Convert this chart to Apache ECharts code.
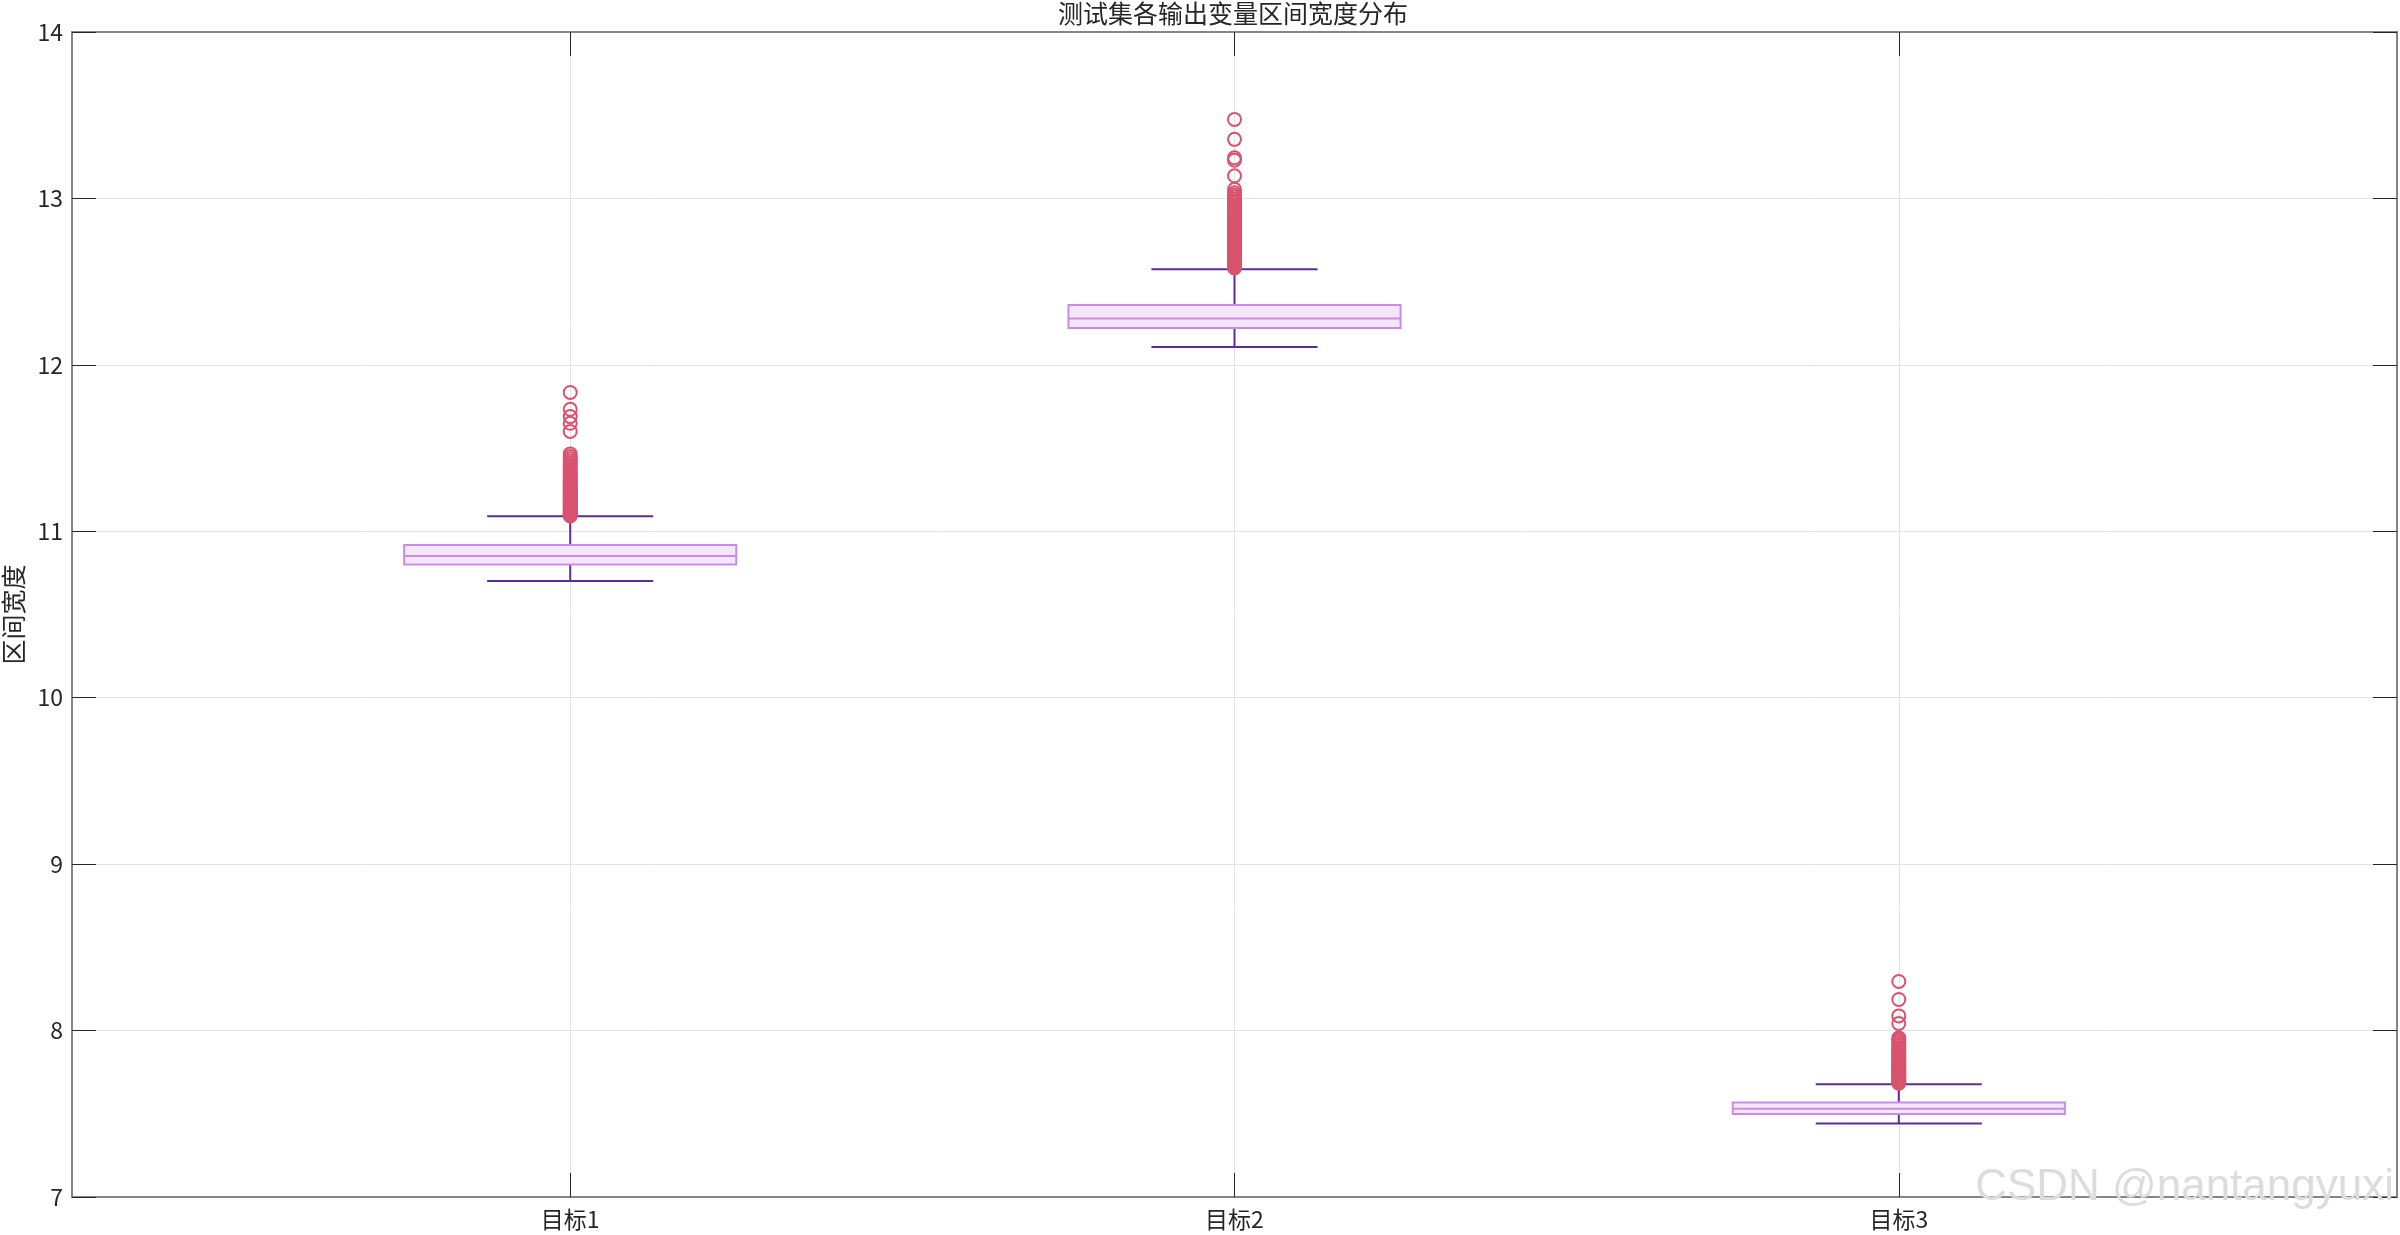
<!DOCTYPE html>
<html>
<head>
<meta charset="utf-8">
<script src="https://cdn.jsdelivr.net/npm/echarts@6/dist/echarts.min.js"></script>
<style>
  html, body { margin: 0; padding: 0; background: #fff; }
  #chart { width: 2400px; height: 1235px; }
</style>
</head>
<body>
<div id="chart"></div>
<script>
// Categories and their positions on the x axis
const categories = ['目标1', '目标2', '目标3'];
const positions = [1, 2, 3];

// Box statistics per target
const whiskerLow = [10.701, 12.107, 7.442];
const q1 = [10.801, 12.221, 7.498];
const median = [10.851, 12.279, 7.530];
const q3 = [10.917, 12.359, 7.568];
const whiskerHigh = [11.091, 12.574, 7.678];

// Outliers per target
const outliers1 = [11.092, 11.098, 11.104, 11.110, 11.115, 11.121, 11.127, 11.133, 11.139, 11.145,
  11.151, 11.157, 11.163, 11.169, 11.176, 11.182, 11.189, 11.195, 11.202, 11.209, 11.216, 11.223,
  11.230, 11.238, 11.245, 11.253, 11.261, 11.269, 11.277, 11.285, 11.293, 11.302, 11.311, 11.320,
  11.329, 11.338, 11.348, 11.358, 11.368, 11.378, 11.389, 11.400, 11.411, 11.423, 11.436, 11.450,
  11.465, 11.600, 11.649, 11.689, 11.733, 11.834];
const outliers2 = [12.582, 12.588, 12.594, 12.600, 12.606, 12.612, 12.618, 12.624, 12.630, 12.636,
  12.642, 12.648, 12.654, 12.660, 12.667, 12.674, 12.681, 12.688, 12.695, 12.702, 12.709, 12.716,
  12.723, 12.731, 12.739, 12.747, 12.755, 12.763, 12.771, 12.779, 12.787, 12.795, 12.803, 12.812,
  12.821, 12.830, 12.839, 12.848, 12.857, 12.866, 12.876, 12.886, 12.896, 12.906, 12.916, 12.927,
  12.938, 12.949, 12.960, 12.972, 12.984, 12.996, 13.008, 13.021, 13.034, 13.055, 13.136, 13.230,
  13.244, 13.355, 13.475];
const outliers3 = [7.684, 7.690, 7.696, 7.702, 7.708, 7.714, 7.720, 7.726, 7.732, 7.738, 7.744,
  7.750, 7.757, 7.764, 7.771, 7.778, 7.785, 7.792, 7.800, 7.808, 7.816, 7.824, 7.832, 7.841, 7.850,
  7.859, 7.868, 7.878, 7.888, 7.899, 7.910, 7.922, 7.935, 7.947, 7.956, 8.043, 8.088, 8.187, 8.295];

// Y axis range
const yMin = 7, yMax = 14, yStep = 1;

const boxData = positions.map((p, i) => [p, whiskerLow[i], q1[i], median[i], q3[i], whiskerHigh[i]]);
const outlierData = []
  .concat(outliers1.map(v => [positions[0], v]))
  .concat(outliers2.map(v => [positions[1], v]))
  .concat(outliers3.map(v => [positions[2], v]));

const FONT = '"Noto Sans CJK SC", "Noto Sans", sans-serif';
const TEXT = '#262626';
const FRAME = '#858585';
const BOX_EDGE = '#c98be9';
const BOX_FILL = '#f4e6fb';
const WHISKER = '#5e2b9d';
const OUTLIER = '#d9536f';

const BOX_HALF = 0.25;
const CAP_HALF = 0.125;

function renderBox(params, api) {
  const x = api.value(0);
  const lo = api.value(1), a = api.value(2), m = api.value(3), b = api.value(4), hi = api.value(5);
  const pL = api.coord([x - BOX_HALF, b]);
  const pR = api.coord([x + BOX_HALF, a]);
  const mL = api.coord([x - BOX_HALF, m]);
  const mR = api.coord([x + BOX_HALF, m]);
  const cTop = api.coord([x, hi]);
  const cQ3 = api.coord([x, b]);
  const cQ1 = api.coord([x, a]);
  const cBot = api.coord([x, lo]);
  const capTL = api.coord([x - CAP_HALF, hi]);
  const capTR = api.coord([x + CAP_HALF, hi]);
  const capBL = api.coord([x - CAP_HALF, lo]);
  const capBR = api.coord([x + CAP_HALF, lo]);
  const wStyle = { stroke: WHISKER, lineWidth: 2, fill: null };
  return {
    type: 'group',
    children: [
      { type: 'line', shape: { x1: cTop[0], y1: cTop[1], x2: cQ3[0], y2: cQ3[1] }, style: wStyle },
      { type: 'line', shape: { x1: cQ1[0], y1: cQ1[1], x2: cBot[0], y2: cBot[1] }, style: wStyle },
      { type: 'line', shape: { x1: capTL[0], y1: capTL[1], x2: capTR[0], y2: capTR[1] }, style: wStyle },
      { type: 'line', shape: { x1: capBL[0], y1: capBL[1], x2: capBR[0], y2: capBR[1] }, style: wStyle },
      { type: 'rect', shape: { x: pL[0], y: pL[1], width: pR[0] - pL[0], height: pR[1] - pL[1] },
        style: { fill: BOX_FILL, stroke: BOX_EDGE, lineWidth: 2 } },
      { type: 'line', shape: { x1: mL[0], y1: mL[1], x2: mR[0], y2: mR[1] },
        style: { stroke: BOX_EDGE, lineWidth: 2 } }
    ]
  };
}

const chart = echarts.init(document.getElementById('chart'), null, { renderer: 'canvas' });

const tickStyle = { show: true, inside: true, length: 24, lineStyle: { color: TEXT, width: 1 } };

chart.setOption({
  backgroundColor: '#ffffff',
  animation: false,
  textStyle: { fontFamily: FONT },
  title: {
    text: '测试集各输出变量区间宽度分布',
    left: 1058,
    top: 1,
    padding: 0,
    textStyle: { fontFamily: FONT, fontSize: 25, fontWeight: 'normal', color: TEXT }
  },
  grid: { left: 72, right: 3, top: 32, bottom: 38, containLabel: false, outerBoundsMode: 'none' },
  xAxis: [
    {
      type: 'value',
      min: 0.25,
      max: 3.75,
      position: 'bottom',
      axisLine: { show: true, onZero: false, lineStyle: { color: FRAME, width: 2 } },
      axisTick: Object.assign({ customValues: positions }, tickStyle),
      axisLabel: {
        customValues: positions,
        formatter: v => categories[positions.indexOf(Math.round(v))] || '',
        fontFamily: FONT, fontSize: 23, color: TEXT, margin: 11
      },
      splitLine: { show: true, lineStyle: { color: '#e3e3e3', width: 1 } }
    },
    {
      type: 'value',
      min: 0.25,
      max: 3.75,
      position: 'top',
      axisLine: { show: true, onZero: false, lineStyle: { color: FRAME, width: 2 } },
      axisTick: Object.assign({ customValues: positions }, tickStyle),
      axisLabel: { show: false },
      splitLine: { show: false }
    }
  ],
  yAxis: [
    {
      type: 'value',
      min: yMin,
      max: yMax,
      interval: yStep,
      position: 'left',
      name: '区间宽度',
      nameLocation: 'middle',
      nameGap: 46,
      nameRotate: 90,
      nameTextStyle: { fontFamily: FONT, fontSize: 25, color: TEXT },
      axisLine: { show: true, lineStyle: { color: FRAME, width: 2 } },
      axisTick: tickStyle,
      axisLabel: { fontFamily: FONT, fontSize: 23, color: TEXT, margin: 9 },
      splitLine: { show: true, lineStyle: { color: '#e3e3e3', width: 1 } }
    },
    {
      type: 'value',
      min: yMin,
      max: yMax,
      interval: yStep,
      position: 'right',
      axisLine: { show: true, lineStyle: { color: FRAME, width: 2 } },
      axisTick: tickStyle,
      axisLabel: { show: false },
      splitLine: { show: false }
    }
  ],
  series: [
    {
      type: 'custom',
      name: 'box',
      xAxisIndex: 0,
      yAxisIndex: 0,
      renderItem: renderBox,
      encode: { x: 0, y: [1, 2, 3, 4, 5] },
      data: boxData,
      z: 3
    },
    {
      type: 'scatter',
      name: 'outliers',
      xAxisIndex: 0,
      yAxisIndex: 0,
      symbol: 'circle',
      symbolSize: 13,
      itemStyle: { color: 'rgba(255,255,255,0)', borderColor: OUTLIER, borderWidth: 2, opacity: 1 },
      data: outlierData,
      z: 4
    }
  ],
  graphic: [
    {
      type: 'text',
      right: 6,
      top: 1166,
      z: 100,
      style: {
        text: 'CSDN @nantangyuxi',
        font: '44px "Liberation Sans", Arial, sans-serif',
        fill: '#dcdcdc',
        shadowColor: 'rgba(0,0,0,0.35)',
        shadowBlur: 3,
        shadowOffsetX: 1,
        shadowOffsetY: 1
      }
    }
  ]
});
</script>
</body>
</html>
